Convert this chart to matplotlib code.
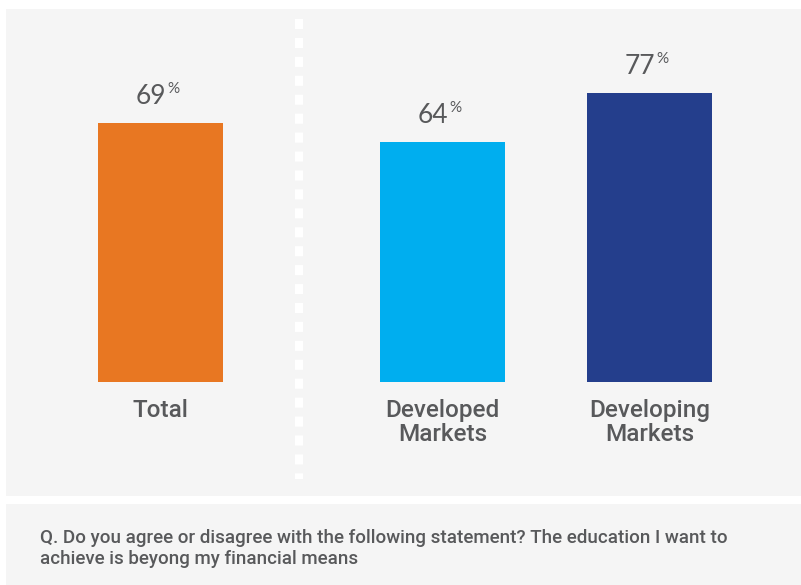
import matplotlib.pyplot as plt
from matplotlib.patches import Rectangle
from matplotlib.transforms import offset_copy

categories = ['Total', 'Developed\nMarkets', 'Developing\nMarkets']
values = [69, 64, 77]
colors = ['#E87722', '#00AEEF', '#243E8C']
question = ('Q. Do you agree or disagree with the following statement? The education I want to\n'
            'achieve is beyong my financial means')

W, H = 801, 585
text_col = '#58595B'
panel_col = '#F5F5F5'

fig = plt.figure(figsize=(W / 100, H / 100), dpi=100, facecolor='white')

# background panels (pixel coords from top-left)
def panel(x0, y0, x1, y1):
    fig.patches.append(Rectangle((x0 / W, 1 - y1 / H), (x1 - x0) / W, (y1 - y0) / H,
                                 transform=fig.transFigure, facecolor=panel_col,
                                 edgecolor='none', zorder=-5))

panel(6, 9, 801, 496)
panel(6, 504, 801, 585)

# axes: x in pixels, y in percent, baseline at y=382px, 100% = 375px
base, scale = 382, 3.75
ax = fig.add_axes([0, (H - base) / H, 1, 100 * scale / H])
ax.set_xlim(0, W)
ax.set_ylim(0, 100)
ax.axis('off')
ax.patch.set_alpha(0)

centers = [160.5, 442.5, 649.5]
ax.bar(centers, values, width=125, color=colors, zorder=2)

for cx, v in zip(centers, values):
    t_num = offset_copy(ax.transData, fig=fig, x=6, y=19, units='dots')
    ax.text(cx, v, str(v), transform=t_num, ha='right', va='baseline',
            fontsize=19, color=text_col, family='Lato')
    t_pct = offset_copy(ax.transData, fig=fig, x=6.5, y=30, units='dots')
    ax.text(cx, v, '%', transform=t_pct, ha='left', va='baseline',
            fontsize=11, color=text_col, family='Lato')

for cx, lab in zip(centers, categories):
    t_lab = offset_copy(ax.transData, fig=fig, x=0, y=-17, units='dots')
    ax.text(cx, 0, lab, transform=t_lab, ha='center', va='top', fontsize=17.5,
            color=text_col, family='Roboto', fontweight='medium', linespacing=1.05)

# dotted divider
fig.add_artist(plt.Line2D([298.5 / W, 298.5 / W], [1 - 19 / H, 1 - 479 / H],
                          transform=fig.transFigure, color='white', linewidth=5.8,
                          linestyle=(0, (1.25, 1.1)), solid_capstyle='butt'))

fig.text(40 / W, 1 - 564 / H, question, ha='left', va='baseline', fontsize=13.5,
         color=text_col, family='Roboto', fontweight='medium', linespacing=1.2)

fig.savefig('out.png', dpi=100, facecolor='white')
